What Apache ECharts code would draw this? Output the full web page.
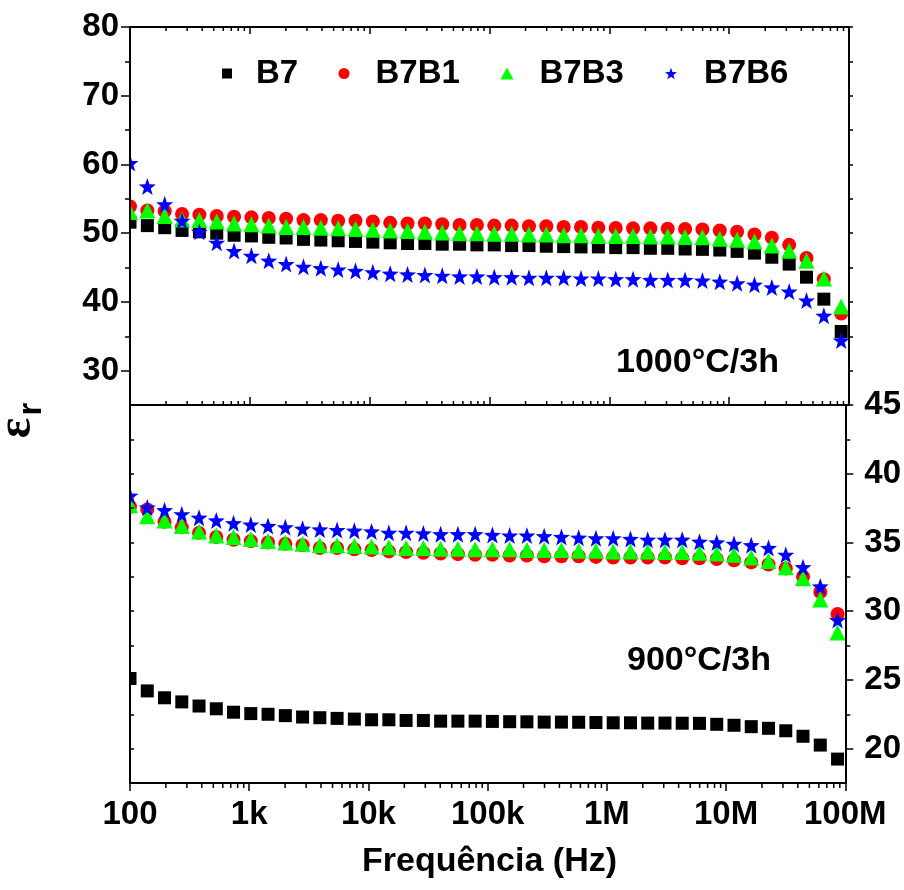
<!DOCTYPE html>
<html>
<head>
<meta charset="utf-8">
<script src="https://cdn.jsdelivr.net/npm/echarts@6/dist/echarts.min.js"></script>
<style>
  html, body { margin: 0; padding: 0; background: #ffffff; }
  #chart { width: 904px; height: 890px; }
</style>
</head>
<body>
<div id="chart"></div>
<script>
// Measurement frequencies (Hz)
const freq = [
  100, 139.6, 194.8, 271.9, 379.4, 529.5, 738.9,
  1031, 1439, 2009, 2803, 3912, 5459, 7618,
  10631, 14837, 20705, 28895, 40324, 56275, 78536,
  109610, 152970, 213460, 297950, 415810, 580250, 809770,
  1130200, 1577800, 2201000, 3071800, 4286500, 5982300, 8350000,
  11654000, 16262000, 22699000, 31676000, 44199000, 61693000, 86099000
];

// Decade ticks of the frequency axis and their labels
const xTickValues = [100, 1e3, 1e4, 1e5, 1e6, 1e7, 1e8];
const xTickLabels = ['100', '1k', '10k', '100k', '1M', '10M', '100M'];

// Permittivity tick values
const yTicks1000 = [30, 40, 50, 60, 70, 80];
const yMinor1000 = [35, 45, 55, 65, 75];
const yTicks900 = [20, 25, 30, 35, 40, 45];
const yMinor900 = [22.5, 27.5, 32.5, 37.5, 42.5];

const seriesNames = ['B7', 'B7B1', 'B7B3', 'B7B6'];

// Sintered at 1000 °C / 3 h
const b7_1000 = [
  51.6, 51.1, 50.8, 50.4, 50.2, 50.0, 49.7, 49.6, 49.4, 49.3, 49.1, 49.0, 48.9, 48.8,
  48.7, 48.6, 48.5, 48.5, 48.4, 48.4, 48.3, 48.3, 48.2, 48.2, 48.1, 48.05, 48.0, 48.0,
  47.9, 47.9, 47.8, 47.8, 47.7, 47.65, 47.55, 47.35, 47.1, 46.5, 45.5, 43.6, 40.4, 35.7
];
const b7b1_1000 = [
  53.9, 53.3, 53.2, 52.8, 52.7, 52.5, 52.4, 52.3, 52.2, 52.1, 51.9, 51.9, 51.8, 51.8,
  51.7, 51.5, 51.4, 51.4, 51.3, 51.2, 51.2, 51.1, 51.1, 51.0, 51.0, 50.9, 50.9, 50.8,
  50.75, 50.7, 50.7, 50.65, 50.6, 50.55, 50.4, 50.2, 49.8, 49.35, 48.3, 46.4, 43.3, 38.3
];
const b7b3_1000 = [
  53.1, 53.3, 52.5, 52.0, 51.9, 51.7, 51.4, 51.3, 51.1, 50.9, 50.9, 50.8, 50.7, 50.6,
  50.5, 50.4, 50.3, 50.2, 50.1, 50.0, 50.0, 49.9, 49.9, 49.8, 49.8, 49.7, 49.7, 49.6,
  49.6, 49.6, 49.5, 49.5, 49.45, 49.4, 49.2, 49.05, 48.8, 48.2, 47.45, 46.0, 43.4, 39.35
];
const b7b6_1000 = [
  60.2, 56.8, 54.2, 51.8, 50.2, 48.6, 47.4, 46.7, 46.0, 45.5, 45.1, 44.9, 44.7, 44.5,
  44.3, 44.1, 44.0, 43.9, 43.8, 43.7, 43.7, 43.6, 43.6, 43.5, 43.5, 43.5, 43.4, 43.4,
  43.3, 43.3, 43.2, 43.2, 43.2, 43.1, 42.95, 42.7, 42.5, 42.1, 41.5, 40.2, 38.0, 34.4
];

// Sintered at 900 °C / 3 h
const b7_900 = [
  25.1, 24.2, 23.7, 23.4, 23.1, 22.9, 22.65, 22.55, 22.5, 22.4, 22.3, 22.25, 22.2, 22.15,
  22.1, 22.1, 22.05, 22.05, 22.0, 22.0, 22.0, 21.98, 21.96, 21.95, 21.93, 21.93, 21.92, 21.9,
  21.88, 21.88, 21.86, 21.86, 21.85, 21.84, 21.77, 21.7, 21.6, 21.48, 21.3, 20.9, 20.26, 19.24
];
const b7b1_900 = [
  37.6, 37.4, 36.5, 36.1, 35.7, 35.4, 35.2, 35.1, 35.0, 34.9, 34.8, 34.6, 34.6, 34.5,
  34.45, 34.35, 34.3, 34.25, 34.2, 34.15, 34.1, 34.1, 34.05, 34.05, 34.0, 34.0, 34.0, 33.95,
  33.9, 33.9, 33.9, 33.9, 33.85, 33.85, 33.8, 33.7, 33.55, 33.4, 33.1, 32.5, 31.4, 29.8
];
const b7b3_900 = [
  37.7, 36.9, 36.6, 36.2, 35.8, 35.5, 35.4, 35.25, 35.1, 35.0, 34.9, 34.8, 34.8, 34.75,
  34.7, 34.65, 34.6, 34.6, 34.55, 34.55, 34.5, 34.5, 34.5, 34.45, 34.45, 34.45, 34.4, 34.4,
  34.35, 34.35, 34.35, 34.3, 34.3, 34.25, 34.2, 34.1, 33.9, 33.65, 33.2, 32.4, 30.85, 28.45
];
const b7b6_900 = [
  38.4, 37.55, 37.35, 37.05, 36.8, 36.6, 36.4, 36.3, 36.2, 36.1, 36.0, 35.95, 35.9, 35.85,
  35.8, 35.7, 35.7, 35.65, 35.6, 35.6, 35.6, 35.55, 35.5, 35.5, 35.45, 35.4, 35.35, 35.3,
  35.3, 35.25, 35.2, 35.2, 35.2, 35.05, 35.0, 34.9, 34.8, 34.6, 34.1, 33.2, 31.8, 29.35
];

// ---------------------------------------------------------------------------
const FONT = '"Liberation Sans", Arial, Helvetica, sans-serif';
const TXT = { fontFamily: FONT, fontWeight: 'bold', fontSize: 33, color: '#000' };
const LINE = { color: '#000', width: 2 };

// minor ticks of the log axis: 2..9 × each decade
const minorFreq = [];
for (let d = 100; d < 1e8; d *= 10) {
  for (let m = 2; m <= 9; m++) minorFreq.push(m * d);
}

const STAR = 'path://M0,-10L2.35,-3.24L9.51,-3.09L3.8,1.24L5.88,8.09L0,4.1L-5.88,8.09L-3.8,1.24L-9.51,-3.09L-2.35,-3.24Z';
const styles = [
  { symbol: 'rect', size: 13, color: '#000000', legendSize: [10, 10] },
  { symbol: 'circle', size: 14, color: '#ff0000', legendSize: [11, 11] },
  { symbol: 'triangle', size: 16, color: '#00ff00', legendSize: [13, 12] },
  { symbol: STAR, size: 17, color: '#0000ff', legendSize: [12, 12] }
];

const upperSets = [b7_1000, b7b1_1000, b7b3_1000, b7b6_1000];
const lowerSets = [b7_900, b7b1_900, b7b3_900, b7b6_900];

function scatter(name, values, st, xi, yi) {
  return {
    name, type: 'scatter', xAxisIndex: xi, yAxisIndex: yi,
    symbol: st.symbol, symbolSize: st.size,
    itemStyle: { color: st.color, opacity: 1 },
    emphasis: { disabled: true },
    data: freq.map((f, i) => [f, values[i]]),
    z: 2
  };
}

// short tick marks of the log axis drawn along one edge of a panel
function minorTicks(xi, yi, edge, dir, len) {
  return {
    type: 'custom', xAxisIndex: xi, yAxisIndex: yi, silent: true, z: 10,
    clip: false,
    data: minorFreq.map(f => [f, edge]),
    renderItem(params, api) {
      const p = api.coord([api.value(0), api.value(1)]);
      return {
        type: 'line',
        shape: { x1: p[0], y1: p[1], x2: p[0], y2: p[1] + dir * len },
        style: { stroke: '#000', lineWidth: 1.5 }
      };
    }
  };
}

function logAxis(grid, position, tick, labels) {
  return {
    type: 'log', logBase: 10, gridIndex: grid, position,
    min: 100, max: 1e8, z: 10,
    splitLine: { show: false },
    axisLine: { show: true, onZero: false, lineStyle: LINE },
    axisTick: tick,
    axisLabel: labels
  };
}

const series = [];
seriesNames.forEach((n, k) => series.push(scatter(n, upperSets[k], styles[k], 0, 0)));
seriesNames.forEach((n, k) => series.push(scatter(n, lowerSets[k], styles[k], 2, 3)));
series.push(minorTicks(1, 0, 80, 1, 4));     // top frame, pointing down
series.push(minorTicks(0, 0, 25, -1, 4));    // divider, pointing up
series.push(minorTicks(2, 3, 17.5, 1, 5));   // bottom axis, pointing down

// legend: one block per sample so each entry sits where it belongs
const legendIconX = [222, 339, 502, 666];
const legendPad = [19, 21, 21, 22];
const legends = seriesNames.map((n, k) => ({
  data: [n],
  left: legendIconX[k] - styles[k].legendSize[0] / 2,
  top: 52,
  orient: 'horizontal',
  itemWidth: styles[k].legendSize[0],
  itemHeight: styles[k].legendSize[1],
  selectedMode: false,
  textStyle: Object.assign({}, TXT, { padding: [0, 0, 10, legendPad[k]] })
}));

const chart = echarts.init(document.getElementById('chart'), null, { renderer: 'canvas' });
chart.setOption({
  animation: false,
  backgroundColor: '#ffffff',
  textStyle: { fontFamily: FONT },
  grid: [
    { left: 130, top: 27, width: 719, height: 378, containLabel: false },
    { left: 130, top: 405, width: 719, height: 378, containLabel: false }
  ],
  legend: legends,
  xAxis: [
    logAxis(0, 'bottom', { show: true, inside: true, length: 8, lineStyle: { color: '#000', width: 1.5 } }, { show: false }),
    logAxis(0, 'top', { show: true, inside: true, length: 7, lineStyle: { color: '#000', width: 1.5 } }, { show: false }),
    logAxis(1, 'bottom', { show: true, inside: false, length: 8, lineStyle: { color: '#000', width: 1.5 } },
      Object.assign({}, TXT, {
        show: true, margin: 15,
        formatter: v => {
          const i = xTickValues.findIndex(t => Math.abs(Math.log10(t) - Math.log10(v)) < 1e-6);
          return i >= 0 ? xTickLabels[i] : '';
        }
      })),
    logAxis(1, 'top', { show: false }, { show: false })
  ],
  yAxis: [
    { // upper panel, left, labelled
      type: 'value', gridIndex: 0, position: 'left', min: 25, max: 80, z: 10,
      splitLine: { show: false },
      axisLine: { show: true, onZero: false, lineStyle: LINE },
      axisTick: { show: true, length: 9, customValues: yTicks1000, lineStyle: { color: '#000', width: 1.5 } },
      axisLabel: Object.assign({}, TXT, { margin: 11, customValues: yTicks1000 })
    },
    { // upper panel, left, minor ticks
      type: 'value', gridIndex: 0, position: 'left', min: 25, max: 80, z: 10,
      splitLine: { show: false },
      axisLine: { show: false },
      axisTick: { show: true, length: 5, customValues: yMinor1000, lineStyle: { color: '#000', width: 1.5 } },
      axisLabel: { show: false }
    },
    { // upper panel, right frame
      type: 'value', gridIndex: 0, position: 'right', min: 25, max: 80, z: 10,
      splitLine: { show: false },
      axisLine: { show: true, onZero: false, lineStyle: LINE },
      axisTick: { show: true, length: 4, customValues: yTicks1000.concat(yMinor1000), lineStyle: { color: '#000', width: 1.5 } },
      axisLabel: { show: false }
    },
    { // lower panel, right, labelled
      type: 'value', gridIndex: 1, position: 'right', min: 17.5, max: 45, z: 10,
      splitLine: { show: false },
      axisLine: { show: true, onZero: false, lineStyle: LINE },
      axisTick: { show: true, length: 8, customValues: yTicks900, lineStyle: { color: '#000', width: 1.5 } },
      axisLabel: Object.assign({}, TXT, { margin: 19, customValues: yTicks900 })
    },
    { // lower panel, right, minor ticks
      type: 'value', gridIndex: 1, position: 'right', min: 17.5, max: 45, z: 10,
      splitLine: { show: false },
      axisLine: { show: false },
      axisTick: { show: true, length: 5, customValues: yMinor900, lineStyle: { color: '#000', width: 1.5 } },
      axisLabel: { show: false }
    },
    { // lower panel, left frame
      type: 'value', gridIndex: 1, position: 'left', min: 17.5, max: 45, z: 10,
      splitLine: { show: false },
      axisLine: { show: true, onZero: false, lineStyle: LINE },
      axisTick: { show: true, inside: true, length: 4, customValues: yTicks900.concat(yMinor900), lineStyle: { color: '#000', width: 1.5 } },
      axisLabel: { show: false }
    }
  ],
  graphic: [
    // clip markers that sit on the left frame
    { type: 'rect', z: 4, silent: true, shape: { x: 95, y: 20, width: 34, height: 770 }, style: { fill: '#ffffff' } },
    { type: 'text', z: 20, x: 616, y: 363, style: { text: '1000°C/3h', fill: '#000', font: 'bold 34px ' + FONT, verticalAlign: 'middle', align: 'left' } },
    { type: 'text', z: 20, x: 627, y: 661, style: { text: '900°C/3h', fill: '#000', font: 'bold 34px ' + FONT, verticalAlign: 'middle', align: 'left' } },
    { type: 'text', z: 20, x: 489.5, y: 862, style: { text: 'Frequência (Hz)', fill: '#000', font: 'bold 34px ' + FONT, verticalAlign: 'middle', align: 'center' } },
    { type: 'text', z: 20, x: 18, y: 428, rotation: Math.PI / 2, style: { text: 'ε', fill: '#000', font: 'bold 48px "Liberation Serif", "DejaVu Serif", serif', verticalAlign: 'middle', align: 'center' } },
    { type: 'text', z: 20, x: 32, y: 409, rotation: Math.PI / 2, style: { text: 'r', fill: '#000', font: 'bold 33px ' + FONT, verticalAlign: 'middle', align: 'center' } }
  ],
  series
});
</script>
</body>
</html>
